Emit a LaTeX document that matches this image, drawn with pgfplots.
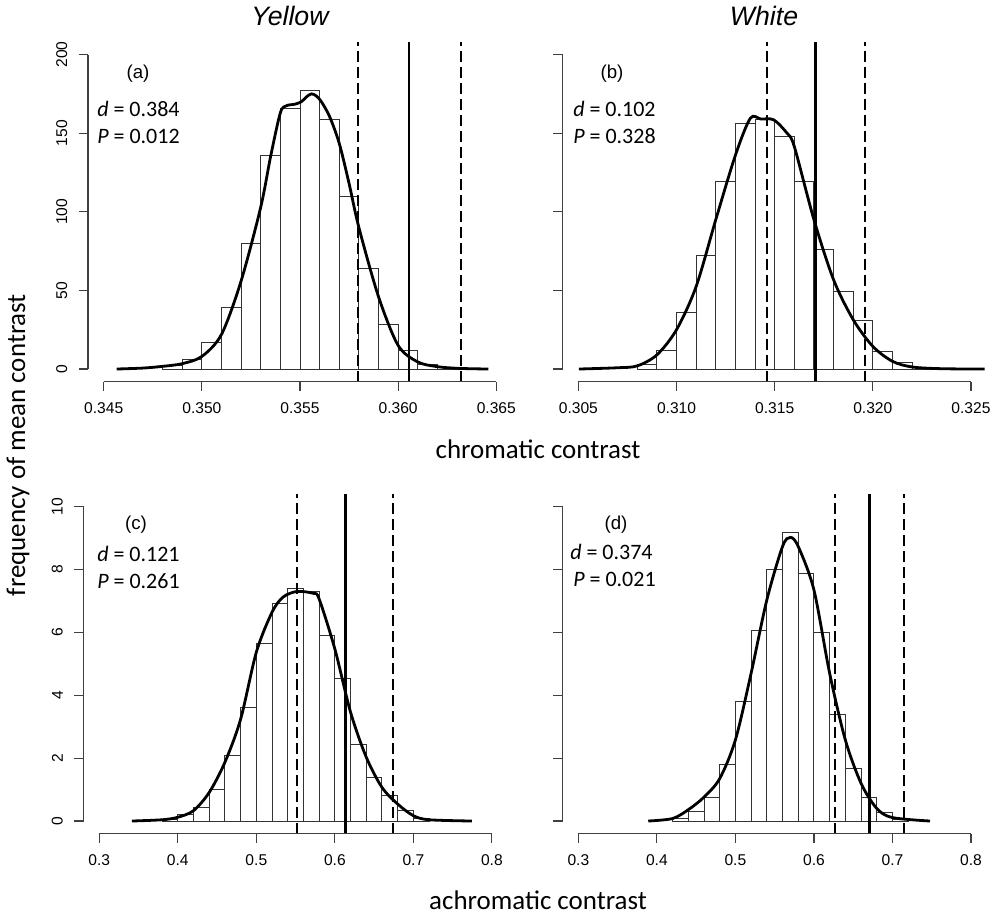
\documentclass[border=0pt]{standalone}
\usepackage{fontspec}
\setmainfont{Carlito}
\newfontfamily\arialf{Liberation Sans}
\usepackage{pgfplots}
\pgfplotsset{compat=1.18}

\definecolor{axc}{HTML}{404040}
\definecolor{barc}{HTML}{333333}

\pgfplotsset{
  hist/.style={
    scale only axis, width=318pt, height=254.7pt, anchor=south west,
    axis x line*=bottom, axis y line*=left, axis line style={draw=none},
    tick align=outside, major tick length=7pt,
    tick style={draw=axc, line width=0.9pt},
    clip=false,
    ticklabel style={font=\arialf\fontsize{11.7}{14}\selectfont},
    xticklabel style={yshift=-5pt},
    yticklabel style={rotate=90, anchor=south, yshift=5pt},
  },
  bars/.style={ybar interval, draw=barc, fill=white, line width=0.75pt},
  dens/.style={smooth, black, line width=2.1pt},
  obs/.style={black, line width=1.9pt},
  ci/.style={black, line width=1.4pt, dash pattern=on 8pt off 4pt},
}

\begin{document}
\begin{tikzpicture}
\useasboundingbox (0,0) rectangle (744pt,688.5pt);

% (a) chromatic, yellow
\begin{axis}[hist, at={(66pt,402.3pt)},
  xmin=0.3442, xmax=0.3658, ymin=-8, ymax=208,
  xtick={0.345,0.350,0.355,0.360,0.365},
  xticklabels={0.345,0.350,0.355,0.360,0.365},
  ytick={0,50,100,150,200}, yticklabels={0,50,100,150,200}]
\addplot[bars] coordinates {(0.348,2)(0.349,6)(0.350,17)(0.351,39)(0.352,80)
  (0.353,136)(0.354,166)(0.355,177)(0.356,159)(0.357,110)(0.358,64)(0.359,28)
  (0.360,12)(0.361,3)(0.362,1)(0.363,0)};
\addplot[dens] coordinates {(0.34566,0)(0.347,0.6)(0.348,1.7)(0.349,3.4)(0.350,8)
  (0.351,22)(0.352,56)(0.353,103)(0.3535,135)(0.354,163)(0.35432,167.5)
  (0.35473,168.4)(0.35507,170)(0.35532,173)(0.35558,175)(0.35583,173.7)
  (0.35609,170)(0.35651,160.5)(0.357,143.5)(0.3575,118)(0.358,90)(0.359,46)
  (0.360,15)(0.361,4.5)(0.362,1.5)(0.3631,0.4)(0.3646,0)};
\addplot[ci] coordinates {(0.35797,-8)(0.35797,208)};
\addplot[ci] coordinates {(0.36318,-8)(0.36318,208)};
\addplot[obs] coordinates {(0.36056,-8)(0.36056,208)};
\draw[axc, line width=0.9pt] (axis cs:0.345,-8) -- (axis cs:0.365,-8);
\draw[axc, line width=0.9pt] (axis cs:0.3442,0) -- (axis cs:0.3442,200);
\end{axis}

% (b) chromatic, white
\begin{axis}[hist, at={(422pt,402.3pt)},
  xmin=0.3042, xmax=0.3258, ymin=-8, ymax=208,
  xtick={0.305,0.310,0.315,0.320,0.325},
  xticklabels={0.305,0.310,0.315,0.320,0.325},
  ytick={0,50,100,150,200}, yticklabels={}]
\addplot[bars] coordinates {(0.308,3)(0.309,12)(0.310,36)(0.311,72)(0.312,119)
  (0.313,156)(0.314,159)(0.315,148)(0.316,119)(0.317,76)(0.318,49)(0.319,31)
  (0.320,11)(0.321,4)(0.322,1)(0.323,0)};
\addplot[dens] coordinates {(0.30503,0)(0.307,0.8)(0.308,2)(0.309,9)(0.310,25)
  (0.311,52.5)(0.312,95)(0.313,136)(0.31376,159.5)(0.3143,159)(0.31495,158.5)
  (0.31563,150)(0.316,141.5)(0.317,95)(0.318,56.8)(0.319,31.4)(0.320,14.4)
  (0.321,4.9)(0.322,1.3)(0.3235,0.2)(0.3257,0)};
\addplot[ci] coordinates {(0.31461,-8)(0.31461,208)};
\addplot[ci] coordinates {(0.31962,-8)(0.31962,208)};
\addplot[obs] coordinates {(0.31709,-8)(0.31709,208)};
\draw[axc, line width=0.9pt] (axis cs:0.305,-8) -- (axis cs:0.325,-8);
\draw[axc, line width=0.9pt] (axis cs:0.3042,0) -- (axis cs:0.3042,200);
\end{axis}

% (c) achromatic, yellow
\begin{axis}[hist, at={(62.7pt,63.3pt)},
  xmin=0.28, xmax=0.82, ymin=-0.4, ymax=10.4,
  xtick={0.3,0.4,0.5,0.6,0.7,0.8},
  xticklabels={0.3,0.4,0.5,0.6,0.7,0.8},
  ytick={0,2,4,6,8,10}, yticklabels={0,2,4,6,8,10}]
\addplot[bars] coordinates {(0.38,0.05)(0.40,0.20)(0.42,0.42)(0.44,1.01)(0.46,2.09)
  (0.48,3.61)(0.50,5.63)(0.52,6.92)(0.54,7.39)(0.56,7.29)(0.58,5.90)(0.60,4.53)
  (0.62,2.42)(0.64,1.39)(0.66,0.82)(0.68,0.34)(0.70,0.08)(0.72,0)};
\addplot[dens] coordinates {(0.3414,0)(0.38,0.04)(0.40,0.12)(0.42,0.33)(0.44,0.91)
  (0.46,1.87)(0.48,3.24)(0.50,5.37)(0.52,6.64)(0.534,7.12)(0.5516,7.30)
  (0.5728,7.24)(0.58,7.06)(0.60,5.47)(0.62,3.46)(0.64,2.03)(0.66,1.07)
  (0.68,0.54)(0.70,0.17)(0.72,0.04)(0.7745,0)};
\addplot[ci] coordinates {(0.5515,-0.4)(0.5515,10.4)};
\addplot[ci] coordinates {(0.6745,-0.4)(0.6745,10.4)};
\addplot[obs] coordinates {(0.6135,-0.4)(0.6135,10.4)};
\draw[axc, line width=0.9pt] (axis cs:0.3,-0.4) -- (axis cs:0.8,-0.4);
\draw[axc, line width=0.9pt] (axis cs:0.28,0) -- (axis cs:0.28,10);
\end{axis}

% (d) achromatic, white
\begin{axis}[hist, at={(422pt,63.3pt)},
  xmin=0.28, xmax=0.82, ymin=-0.4, ymax=10.4,
  xtick={0.3,0.4,0.5,0.6,0.7,0.8},
  xticklabels={0.3,0.4,0.5,0.6,0.7,0.8},
  ytick={0,2,4,6,8,10}, yticklabels={}]
\addplot[bars] coordinates {(0.42,0.08)(0.44,0.30)(0.46,0.74)(0.48,1.80)(0.50,3.80)
  (0.52,6.07)(0.54,8.01)(0.56,9.18)(0.58,7.88)(0.60,5.99)(0.62,3.39)(0.64,1.66)
  (0.66,0.75)(0.68,0.27)(0.70,0.05)(0.72,0)};
\addplot[dens] coordinates {(0.389,0)(0.42,0.08)(0.44,0.36)(0.46,0.76)(0.48,1.35)
  (0.50,2.58)(0.52,4.70)(0.54,7.03)(0.56,8.73)(0.57,9.02)(0.58,8.73)(0.60,7.35)
  (0.62,4.70)(0.64,2.58)(0.66,1.20)(0.68,0.40)(0.70,0.11)(0.7478,0)};
\addplot[ci] coordinates {(0.627,-0.4)(0.627,10.4)};
\addplot[ci] coordinates {(0.7148,-0.4)(0.7148,10.4)};
\addplot[obs] coordinates {(0.6711,-0.4)(0.6711,10.4)};
\draw[axc, line width=0.9pt] (axis cs:0.3,-0.4) -- (axis cs:0.8,-0.4);
\draw[axc, line width=0.9pt] (axis cs:0.28,0) -- (axis cs:0.28,10);
\end{axis}

% titles and labels
\node[font=\arialf\itshape\fontsize{20}{24}\selectfont] at (217.5pt,676.2pt) {Yellow};
\node[font=\arialf\itshape\fontsize{20}{24}\selectfont] at (573pt,676.2pt) {White};
\node[font=\fontsize{20.2}{24}\selectfont] at (403.5pt,351.75pt) {chromatic contrast};
\node[font=\fontsize{20.2}{24}\selectfont] at (403.5pt,13.5pt) {achromatic contrast};
\node[font=\fontsize{20.2}{24}\selectfont, rotate=90] at (13.5pt,354.75pt) {frequency of mean contrast};

% panel tags and statistics
\begin{scope}[every node/.style={font=\arialf\fontsize{14}{16}\selectfont}]
\node at (103.5pt,633pt) {(a)};
\node at (459pt,633pt) {(b)};
\node at (102pt,295pt) {(c)};
\node at (462pt,295pt) {(d)};
\end{scope}
\begin{scope}[every node/.style={font=\fontsize{16.5}{19}\selectfont, anchor=base west, inner sep=0pt}]
\node at (72.75pt,601.1pt) {\itshape d\upshape{} = 0.384};
\node at (72.75pt,580.9pt) {\itshape P\upshape{} = 0.012};
\node at (429.75pt,601.1pt) {\itshape d\upshape{} = 0.102};
\node at (429.75pt,580.9pt) {\itshape P\upshape{} = 0.328};
\node at (72.75pt,267.4pt) {\itshape d\upshape{} = 0.121};
\node at (72.75pt,247.35pt) {\itshape P\upshape{} = 0.261};
\node at (427.5pt,268.5pt) {\itshape d\upshape{} = 0.374};
\node at (429.75pt,248.6pt) {\itshape P\upshape{} = 0.021};
\end{scope}
\end{tikzpicture}
\end{document}
